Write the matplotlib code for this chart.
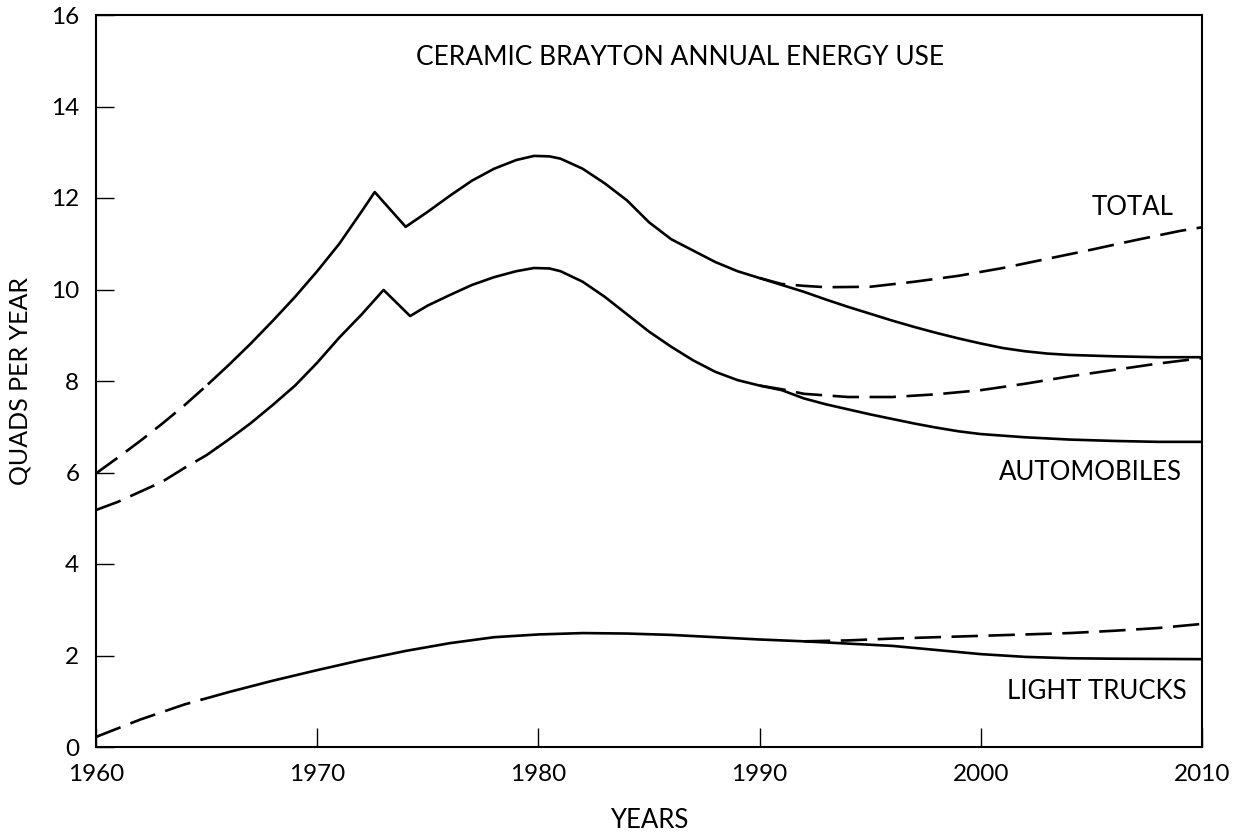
import matplotlib
matplotlib.use('Agg')
import matplotlib.pyplot as plt
import numpy as np

plt.rcParams['font.family'] = ['Lato', 'DejaVu Sans']

# main curves
total_years = [1960, 1961, 1962, 1963, 1964, 1965, 1966, 1967, 1968, 1969, 1970, 1971, 1972, 1972.6,
               1974, 1975, 1976, 1977, 1978, 1979, 1979.8, 1980.5, 1981, 1982, 1983, 1984, 1985, 1986, 1987,
               1988, 1989, 1990, 1991, 1992, 1993, 1994, 1995, 1996, 1997, 1998, 1999, 2000, 2001,
               2002, 2003, 2004, 2006, 2008, 2010]
total_vals = [5.98, 6.33, 6.69, 7.07, 7.47, 7.9, 8.35, 8.82, 9.32, 9.84, 10.4, 11.0, 11.7, 12.13,
              11.37, 11.7, 12.05, 12.38, 12.64, 12.83, 12.92, 12.91, 12.86, 12.64, 12.32, 11.95, 11.47, 11.1, 10.85,
              10.6, 10.4, 10.25, 10.1, 9.95, 9.78, 9.62, 9.47, 9.32, 9.18, 9.05, 8.93, 8.82, 8.72,
              8.65, 8.6, 8.57, 8.54, 8.52, 8.52]
total_alt_years = [1990, 1991, 1992, 1993, 1995, 1997, 1999, 2001, 2003, 2005, 2007, 2009, 2010]
total_alt_vals = [10.25, 10.12, 10.08, 10.05, 10.06, 10.17, 10.3, 10.47, 10.67, 10.87, 11.08, 11.28, 11.36]

auto_years = [1960, 1961, 1962, 1963, 1964, 1965, 1966, 1967, 1968, 1969, 1970, 1971, 1972, 1973,
              1974.2, 1975, 1976, 1977, 1978, 1979, 1979.8, 1980.5, 1981, 1982, 1983, 1984, 1985, 1986, 1987,
              1988, 1989, 1990, 1991, 1992, 1993, 1994, 1995, 1996, 1997, 1998, 1999, 2000, 2002,
              2004, 2006, 2008, 2010]
auto_vals = [5.18, 5.36, 5.58, 5.8, 6.1, 6.38, 6.72, 7.08, 7.48, 7.9, 8.4, 8.95, 9.45, 9.99,
             9.42, 9.65, 9.88, 10.1, 10.27, 10.4, 10.47, 10.46, 10.4, 10.17, 9.84, 9.46, 9.08, 8.75, 8.45,
             8.2, 8.02, 7.9, 7.8, 7.62, 7.49, 7.38, 7.27, 7.17, 7.07, 6.98, 6.9, 6.84, 6.77,
             6.72, 6.69, 6.67, 6.67]
auto_alt_years = [1990, 1991, 1992, 1994, 1996, 1998, 2000, 2002, 2004, 2006, 2008, 2010]
auto_alt_vals = [7.9, 7.82, 7.72, 7.65, 7.65, 7.71, 7.8, 7.94, 8.1, 8.24, 8.38, 8.5]

truck_years = [1960, 1962, 1964, 1966, 1968, 1970, 1972, 1974, 1976, 1978, 1980, 1982, 1984, 1986,
               1988, 1990, 1992, 1994, 1996, 1998, 2000, 2002, 2004, 2006, 2010]
truck_vals = [0.22, 0.6, 0.93, 1.2, 1.45, 1.68, 1.9, 2.1, 2.27, 2.4, 2.46, 2.49, 2.48, 2.45,
              2.4, 2.35, 2.31, 2.26, 2.21, 2.12, 2.03, 1.97, 1.94, 1.93, 1.92]
truck_alt_years = [1992, 1994, 1996, 1998, 2000, 2002, 2004, 2006, 2008, 2010]
truck_alt_vals = [2.31, 2.33, 2.37, 2.4, 2.43, 2.46, 2.49, 2.54, 2.6, 2.69]

# year where each historical dashed stretch turns solid
dash_end = {'total': 1965.1, 'auto': 1965.5, 'truck': 1964.8}

x_ticks = [1960, 1970, 1980, 1990, 2000, 2010]
y_ticks = [0, 2, 4, 6, 8, 10, 12, 14, 16]

fig = plt.figure(figsize=(12.39, 8.32), dpi=100)
ax = fig.add_axes([96/1239, 1-747/832, (1202-96)/1239, (747-15)/832])

lw = 1.9
dash = (10, 4)


def draw(years, vals, alt_years, alt_vals, split):
    years = np.asarray(years, dtype=float)
    vals = np.asarray(vals, dtype=float)
    early = years <= split
    # dashed start up to split, solid after
    ex = np.append(years[early], split)
    ey = np.append(vals[early], np.interp(split, years, vals))
    ax.plot(ex, ey, color='black', lw=lw, dashes=dash)
    sx = np.insert(years[~early], 0, split)
    sy = np.insert(vals[~early], 0, np.interp(split, years, vals))
    ax.plot(sx, sy, color='black', lw=lw, solid_joinstyle='round')
    ax.plot(alt_years, alt_vals, color='black', lw=lw, dashes=dash)


draw(total_years, total_vals, total_alt_years, total_alt_vals, dash_end['total'])
draw(auto_years, auto_vals, auto_alt_years, auto_alt_vals, dash_end['auto'])
draw(truck_years, truck_vals, truck_alt_years, truck_alt_vals, dash_end['truck'])

ax.set_xlim(1960, 2010)
ax.set_ylim(0, 16)
ax.set_xticks(x_ticks)
ax.set_yticks(y_ticks)
ax.tick_params(axis='both', direction='in', width=1.0, labelsize=17.5)
ax.tick_params(axis='x', length=14, pad=12)
ax.tick_params(axis='y', length=13, pad=12)
for s in ax.spines.values():
    s.set_linewidth(1.5)

ax.set_xlabel('YEARS', fontsize=18.5, labelpad=17)
ax.set_ylabel('QUADS PER YEAR', fontsize=18, labelpad=14)

ax.text(1986.4, 15.08, 'CERAMIC BRAYTON ANNUAL ENERGY USE', ha='center', va='center', fontsize=19)
ax.text(2008.7, 11.8, 'TOTAL', ha='right', va='center', fontsize=18.5)
ax.text(2009.1, 6.0, 'AUTOMOBILES', ha='right', va='center', fontsize=18.5)
ax.text(2009.3, 1.22, 'LIGHT TRUCKS', ha='right', va='center', fontsize=18.5)

fig.savefig('out.png', dpi=100)
